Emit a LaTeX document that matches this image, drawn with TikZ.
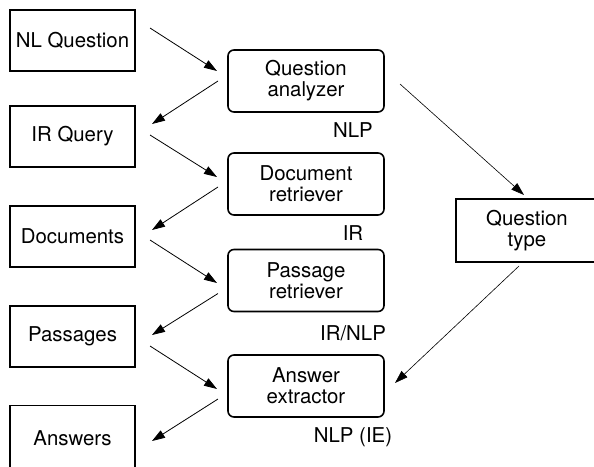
\documentclass[tikz,border=0pt]{standalone}
\usepackage{fontspec}
\setmainfont{TeX Gyre Heros}
\usetikzlibrary{arrows.meta}
\tikzset{
  txt/.style={font=\fontsize{20.4}{21}\selectfont, align=center},
  databox/.style={txt, draw, line width=1.6pt, minimum width=125pt, minimum height=61pt, inner sep=0pt, outer sep=0pt},
  procbox/.style={txt, draw, line width=1.6pt, rounded corners=6pt, minimum width=156pt, minimum height=62pt, inner sep=0pt, outer sep=0pt},
  typebox/.style={txt, draw, line width=1.6pt, minimum width=142pt, minimum height=63pt, inner sep=0pt, outer sep=0pt},
  tag/.style={font=\fontsize{20.4}{21}\selectfont, anchor=base, inner sep=0pt},
  arr/.style={line width=0.8pt, -{Triangle[length=13pt,width=8.5pt]}},
  thinarr/.style={line width=0.6pt, -{Triangle[length=13pt,width=8.5pt]}}
}
\begin{document}
\begin{tikzpicture}[x=1pt,y=-1pt]
\useasboundingbox (0,0) rectangle (594,466);
% data boxes (left)
\node[databox] (nlq) at (72.5,40.5) {NL Question};
\node[databox] (irq) at (72.5,136.5) {IR Query};
\node[databox] (docs) at (72.5,236.5) {Documents};
\node[databox] (pas) at (72.5,336.5) {Passages};
\node[databox, minimum height=65pt] (ans) at (72.5,438) {Answers};
% processing boxes (middle)
\node[procbox] (qa) at (306,81) {Question\\analyzer};
\node[procbox] (dr) at (306,184) {Document\\retriever};
\node[procbox] (pr) at (306,280.5) {Passage\\retriever};
\node[procbox] (ae) at (306,386) {Answer\\extractor};
% labels
\node[tag] (l1) at (353,137.3) {NLP};
\node[tag] (l2) at (353,240.3) {IR};
\node[tag] (l3) at (353,340.3) {IR/NLP};
\node[tag] (l4) at (353,442.3) {NLP (IE)};
% question type
\node[typebox] (qt) at (527,230.5) {Question\\type};
% connectors
\draw[arr] ([shift={(15,-12.5)}]nlq.east) -- ([shift={(-11,-10)}]qa.west);
\draw[arr] ([shift={(-10,0)}]qa.west) -- ([shift={(17,-12.5)}]irq.east);
\draw[arr] ([shift={(15,-1.5)}]irq.east) -- ([shift={(-11,-7)}]dr.west);
\draw[arr] ([shift={(-10,3)}]dr.west) -- ([shift={(17,-6.5)}]docs.east);
\draw[arr] ([shift={(15,3.5)}]docs.east) -- ([shift={(-11,2.5)}]pr.west);
\draw[arr] ([shift={(-10,13)}]pr.west) -- ([shift={(17,-1.5)}]pas.east);
\draw[arr] ([shift={(15,9.5)}]pas.east) -- ([shift={(-11,3)}]ae.west);
\draw[arr] ([shift={(-10,13)}]ae.west) -- ([shift={(17,3)}]ans.east);
\draw[thinarr] ([shift={(16,3)}]qa.east) -- ([shift={(-3,-4)}]qt.north);
\draw[thinarr] ([shift={(-8,4)}]qt.south) -- ([shift={(11,-3)}]ae.east);
\end{tikzpicture}
\end{document}
